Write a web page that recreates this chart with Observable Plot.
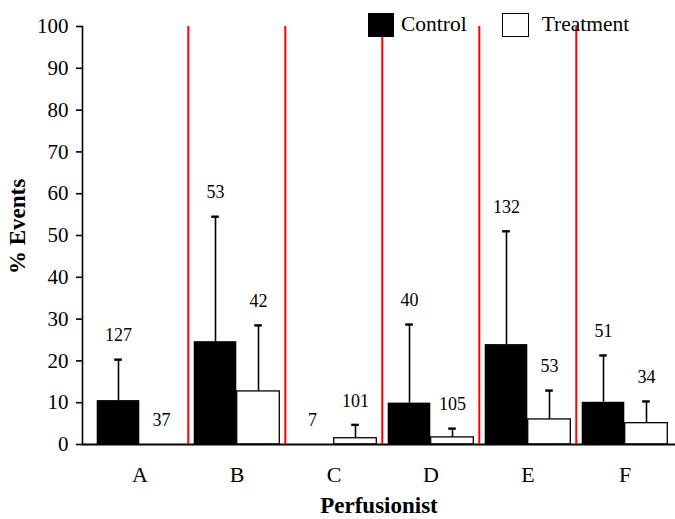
<!DOCTYPE html>
<html>
<head>
<meta charset="utf-8">
<script src="https://cdn.jsdelivr.net/npm/d3@7"></script>
<script src="https://cdn.jsdelivr.net/npm/@observablehq/plot@0.6"></script>
<style>
  body { margin: 0; background: #fff; }
  #chart { position: relative; width: 675px; height: 519px; font-family: "Liberation Serif", "DejaVu Serif", serif; }
  .legend { position: absolute; top: 12px; left: 368px; display: flex; align-items: center; font-size: 21.5px; color: #000; }
  .legend .sw { width: 26px; height: 24px; box-sizing: border-box; }
  .legend .item { display: flex; align-items: center; }
</style>
</head>
<body>
<div id="chart">
  <div class="legend">
    <div class="item"><div class="sw" style="background:#000"></div><span style="margin-left:7px">Control</span></div>
    <div class="item" style="margin-left:35px"><div class="sw" style="background:#fff;border:1.3px solid #000;width:27px"></div><span style="margin-left:13px">Treatment</span></div>
  </div>
</div>
<script>
// Percentage of events per perfusionist, control vs treatment (mean, upper SD, group size)
const groups = ["A", "B", "C", "D", "E", "F"];
const controlMean = [10.5, 24.6, 0, 9.9, 23.9, 10.1];
const controlSD = [9.8, 29.9, 0, 18.8, 27.1, 11.2];
const controlN = [127, 53, 7, 40, 132, 51];
const treatmentMean = [0, 12.7, 1.5, 1.7, 6.0, 5.1];
const treatmentSD = [0, 15.8, 3.2, 2.1, 6.9, 5.2];
const treatmentN = [37, 42, 101, 105, 53, 34];
const yTicks = [0, 10, 20, 30, 40, 50, 60, 70, 80, 90, 100];

const control = groups.map((g, i) => ({group: g, mean: controlMean[i], sd: controlSD[i], n: controlN[i]}));
const treatment = groups.map((g, i) => ({group: g, mean: treatmentMean[i], sd: treatmentSD[i], n: treatmentN[i]}));

const width = 675, height = 519;
const marginLeft = 82, marginRight = 0, marginTop = 26, marginBottom = 75;
const paddingOuter = 0.044;
const step = (width - marginLeft - marginRight) / (groups.length + 2 * paddingOuter);
const half = step / 2;   // half of one category band
const bw = 43;           // width of a single bar
const cap = 4;           // half width of an error-bar cap

const errTop = d => d.mean + d.sd;

const chart = Plot.plot({
  width, height, marginLeft, marginRight, marginTop, marginBottom,
  style: {fontFamily: "Liberation Serif, DejaVu Serif, serif", fontSize: "21px", color: "#000", background: "#fff"},
  x: {domain: groups, padding: 0, paddingOuter, align: 0.85, axis: null},
  y: {domain: [0, 100], axis: null},
  marks: [
    Plot.barY(control, {x: "group", y: "mean", fill: "#000", insetLeft: half - bw, insetRight: half}),
    Plot.barY(treatment, {x: "group", y: "mean", fill: "#fff", stroke: "#000", strokeWidth: 1.3, insetLeft: half, insetRight: half - bw}),
    Plot.ruleX(control.filter(d => d.sd > 0), {x: "group", y1: "mean", y2: errTop, dx: -bw / 2, strokeWidth: 1.6}),
    Plot.ruleX(treatment.filter(d => d.sd > 0), {x: "group", y1: "mean", y2: errTop, dx: bw / 2, strokeWidth: 1.6}),
    Plot.tickY(control.filter(d => d.sd > 0), {x: "group", y: errTop, insetLeft: half - bw / 2 - cap, insetRight: half + bw / 2 - cap, strokeWidth: 2.4}),
    Plot.tickY(treatment.filter(d => d.sd > 0), {x: "group", y: errTop, insetLeft: half + bw / 2 - cap, insetRight: half - bw / 2 - cap, strokeWidth: 2.4}),
    Plot.text(control, {x: "group", y: errTop, text: d => String(d.n), dx: -bw / 2, dy: -24, fontSize: 18}),
    Plot.text(treatment, {x: "group", y: errTop, text: d => String(d.n), dx: bw / 2, dy: -24, fontSize: 18}),
    // axes
    Plot.frame({anchor: "left", strokeWidth: 1.6}),
    Plot.ruleY([0], {strokeWidth: 1.8}),
    Plot.axisY({ticks: yTicks, tickSize: 6, tickPadding: 8, label: null, fontSize: 21, strokeWidth: 1.6}),
    Plot.axisX({ticks: groups, tickSize: 0, tickPadding: 22, label: null, fontSize: 22}),
    // separators between categories
    Plot.ruleX(groups.slice(1), {x: d => d, dx: -half, stroke: "red", strokeWidth: 2}),
    Plot.text(["% Events"], {frameAnchor: "left", textAnchor: "middle", rotate: -90, dx: -65, dy: -9, fontSize: 23, fontWeight: "bold"}),
    Plot.text(["Perfusionist"], {frameAnchor: "bottom", dy: 68, fontSize: 23, fontWeight: "bold"})
  ]
});
document.getElementById("chart").prepend(chart);
</script>
</body>
</html>
